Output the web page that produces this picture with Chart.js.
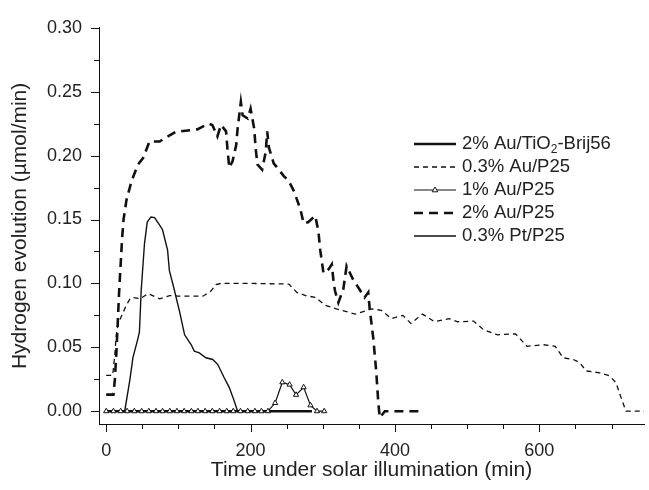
<!DOCTYPE html>
<html><head><meta charset="utf-8">
<script src="https://cdn.jsdelivr.net/npm/chart.js@4.4.1/dist/chart.umd.min.js"></script>
<style>html,body{margin:0;padding:0;background:#fff}#wrap{width:649px;height:490px;position:relative}</style>
</head><body><div id="wrap"><canvas id="c"></canvas></div>
<script>
// ---------- data ----------
const seriesLabels = ["2% Au/TiO2-Brij56", "0.3% Au/P25", "1% Au/P25", "2% Au/P25", "0.3% Pt/P25"];

const tBrij = [0, 285];
const vBrij = [0, 0];

const tAu03 = [0, 9, 12, 14, 16.5, 20, 24, 28, 33, 37, 47, 58, 74, 88, 100, 134, 145, 152, 159, 200, 253, 264, 276, 290, 303, 319, 345, 367, 381, 395, 411, 422, 438, 455, 475, 487, 509, 523, 542, 567, 583, 606, 622, 633, 647, 656, 665, 684, 697, 706, 713, 720, 745];
const vAu03 = [0.028, 0.028, 0.045, 0.060, 0.068, 0.073, 0.078, 0.083, 0.088, 0.089, 0.088, 0.092, 0.088, 0.0905, 0.090, 0.090, 0.094, 0.099, 0.100, 0.100, 0.0995, 0.093, 0.0905, 0.089, 0.083, 0.080, 0.076, 0.080, 0.079, 0.0725, 0.075, 0.0687, 0.076, 0.070, 0.0725, 0.070, 0.0705, 0.0636, 0.0598, 0.0605, 0.0508, 0.052, 0.0508, 0.0418, 0.0405, 0.038, 0.0315, 0.030, 0.0277, 0.0225, 0.011, 0.0, 0.0];

const tAu1 = [0, 10, 20, 29, 39, 49, 59, 69, 78, 88, 98, 108, 118, 127, 137, 147, 157, 167, 176, 186, 196, 206, 215, 224, 234, 244, 254, 263, 273.5, 283, 292, 302];
const vAu1 = [0, 0, 0, 0, 0, 0, 0, 0, 0, 0, 0, 0, 0, 0, 0, 0, 0, 0, 0, 0, 0, 0, 0, 0, 0.0064, 0.0226, 0.0208, 0.0128, 0.0187, 0.0046, 0, 0];

const tAu2 = [0, 10, 12, 14, 16, 18, 20, 22, 24, 28, 35, 44, 51, 60, 74, 81, 97, 126, 142, 147, 154, 159, 166, 168, 170.5, 175, 180, 182, 186.5, 189, 196, 200, 205, 207, 209.5, 216, 221, 223, 225.5, 232, 237, 246, 253, 262, 264, 269, 273.5, 280, 289.6, 294, 296.5, 301, 308, 312.5, 315, 317, 321.6, 328.5, 333, 342, 349, 358, 363, 365, 370, 374, 377, 379, 386, 440];
const vAu2 = [0.013, 0.013, 0.025, 0.045, 0.070, 0.095, 0.115, 0.135, 0.150, 0.165, 0.180, 0.193, 0.198, 0.211, 0.211, 0.2136, 0.2187, 0.2205, 0.225, 0.224, 0.215, 0.224, 0.219, 0.205, 0.1905, 0.1956, 0.208, 0.221, 0.242, 0.2315, 0.229, 0.2367, 0.221, 0.206, 0.193, 0.189, 0.203, 0.219, 0.206, 0.194, 0.1905, 0.184, 0.180, 0.170, 0.166, 0.158, 0.147, 0.148, 0.153, 0.1405, 0.126, 0.108, 0.111, 0.115, 0.101, 0.094, 0.085, 0.0956, 0.1136, 0.103, 0.097, 0.089, 0.093, 0.080, 0.057, 0.0315, 0.006, -0.005, 0.0, 0.0];

const tPt = [0, 25.6, 32.6, 37, 44, 46, 48.5, 53, 56.8, 62, 67, 74, 78, 85, 87.5, 93, 101.7, 108.6, 117.8, 122, 129, 138, 147.5, 154.4, 163.6, 170.4, 177, 182, 190];
const vPt = [0, 0, 0.024, 0.042, 0.057, 0.062, 0.095, 0.131, 0.148, 0.152, 0.1515, 0.1456, 0.142, 0.126, 0.110, 0.098, 0.0777, 0.0598, 0.052, 0.047, 0.0456, 0.0418, 0.0405, 0.0367, 0.026, 0.0187, 0.0085, 0, 0];

const xTickLabels = [0, 200, 400, 600];
const xMinorTicks = [0, 50, 100, 150, 200, 250, 300, 350, 400, 450, 500, 550, 600, 650, 700];
const yTickLabels = [0, 0.05, 0.10, 0.15, 0.20, 0.25, 0.30];
const yMinorTicks = [0.025, 0.075, 0.125, 0.175, 0.225, 0.275];

// ---------- build ----------
const pts = (t, v) => t.map((x, i) => ({x: x, y: v[i]}));
const FONT = '"Liberation Sans", Arial, Helvetica, sans-serif';
const INK = '#111';
const TXT = '#222';

const datasets = [
  {label: seriesLabels[0], data: pts(tBrij, vBrij), borderColor: INK, borderWidth: 2.6, pointRadius: 0, order: 2},
  {label: seriesLabels[1], data: pts(tAu03, vAu03), borderColor: INK, borderWidth: 1.3, borderDash: [5, 4], pointRadius: 0, order: 3},
  {label: seriesLabels[2], data: pts(tAu1, vAu1), borderColor: INK, borderWidth: 1.2, pointStyle: 'triangle', pointRadius: 3,
   pointBackgroundColor: '#fff', pointBorderColor: INK, pointBorderWidth: 1, order: 0},
  {label: seriesLabels[3], data: pts(tAu2, vAu2), borderColor: INK, borderWidth: 2.6, borderDash: [9, 6], pointRadius: 0, order: 4},
  {label: seriesLabels[4], data: pts(tPt, vPt), borderColor: INK, borderWidth: 1.4, pointRadius: 0, order: 1}
];

const tickPlugin = {
  id: 'ticksAndLegend',
  afterDraw(chart) {
    const ctx = chart.ctx, xs = chart.scales.x, ys = chart.scales.y;
    const ca = chart.chartArea;
    ctx.save();
    ctx.strokeStyle = INK; ctx.lineWidth = 1;
    ctx.beginPath();
    xMinorTicks.forEach(v => {
      const px = Math.round(xs.getPixelForValue(v)) + 0.5;
      const len = xTickLabels.includes(v) ? 8 : 5;
      ctx.moveTo(px, ca.bottom); ctx.lineTo(px, ca.bottom + len);
    });
    yTickLabels.forEach(v => {
      const py = Math.round(ys.getPixelForValue(v)) + 0.5;
      ctx.moveTo(ca.left, py); ctx.lineTo(ca.left - 8, py);
    });
    yMinorTicks.forEach(v => {
      const py = Math.round(ys.getPixelForValue(v)) + 0.5;
      ctx.moveTo(ca.left, py); ctx.lineTo(ca.left - 5, py);
    });
    ctx.stroke();

    // legend
    const lx1 = 414, lx2 = 456, tx = 462, y0 = 144, dy = 23;
    const LF = '18.5px ' + FONT;
    ctx.font = LF;
    ctx.fillStyle = TXT;
    ctx.textBaseline = 'middle';
    chart.data.datasets.forEach((ds, i) => {
      const y = y0 + i * dy;
      ctx.save();
      ctx.strokeStyle = INK;
      ctx.lineWidth = ds.borderWidth;
      ctx.setLineDash(ds.borderDash || []);
      ctx.beginPath(); ctx.moveTo(lx1, y); ctx.lineTo(lx2, y); ctx.stroke();
      ctx.setLineDash([]);
      if (ds.pointStyle === 'triangle') {
        const cx = (lx1 + lx2) / 2, r = 3;
        ctx.lineWidth = 1;
        ctx.fillStyle = '#fff';
        ctx.beginPath();
        ctx.moveTo(cx, y - r);
        ctx.lineTo(cx + r * 0.95, y + r * 0.6);
        ctx.lineTo(cx - r * 0.95, y + r * 0.6);
        ctx.closePath(); ctx.fill(); ctx.stroke();
      }
      ctx.restore();
      const label = ds.label;
      if (label.includes('TiO2')) {
        const parts = label.split('TiO2');
        let x = tx;
        const a = parts[0] + 'TiO';
        ctx.fillText(a, x, y); x += ctx.measureText(a).width;
        ctx.font = '12px ' + FONT;
        ctx.fillText('2', x, y + 6); x += ctx.measureText('2').width;
        ctx.font = LF;
        ctx.fillText(parts[1], x, y);
      } else {
        ctx.fillText(label, tx, y);
      }
    });
    ctx.restore();
  }
};

new Chart(document.getElementById('c'), {
  type: 'line',
  data: {datasets: datasets},
  options: {
    responsive: true, maintainAspectRatio: false, animation: false,
    layout: {padding: {top: 20, left: 0, right: 0, bottom: 0}},
    plugins: {legend: {display: false}, tooltip: {enabled: false}},
    elements: {line: {tension: 0}},
    scales: {
      x: {
        type: 'linear', min: -10, max: 745,
        grid: {display: false, drawTicks: false},
        border: {display: true, color: INK, width: 1},
        afterBuildTicks: s => { s.ticks = xTickLabels.map(v => ({value: v})); },
        afterFit: s => { s.height = 66; },
        ticks: {color: TXT, font: {family: FONT, size: 18}, padding: 16, autoSkip: false, maxRotation: 0,
                callback: v => String(v)},
        title: {display: true, text: 'Time under solar illumination (min)', color: TXT,
                font: {family: FONT, size: 21}, padding: {top: 0, bottom: 7}}
      },
      y: {
        type: 'linear', min: -0.01, max: 0.30,
        grid: {display: false, drawTicks: false},
        border: {display: true, color: INK, width: 1},
        afterBuildTicks: s => { s.ticks = yTickLabels.map(v => ({value: v})); },
        afterFit: s => { s.width = 99; },
        ticks: {color: TXT, font: {family: FONT, size: 18}, padding: 17, autoSkip: false,
                callback: v => Number(v).toFixed(2)},
        title: {display: true, text: 'Hydrogen evolution (\u00b5mol/min)', color: TXT,
                font: {family: FONT, size: 21}, padding: {top: 8, bottom: 0}}
      }
    }
  },
  plugins: [tickPlugin]
});
</script>
</body></html>
